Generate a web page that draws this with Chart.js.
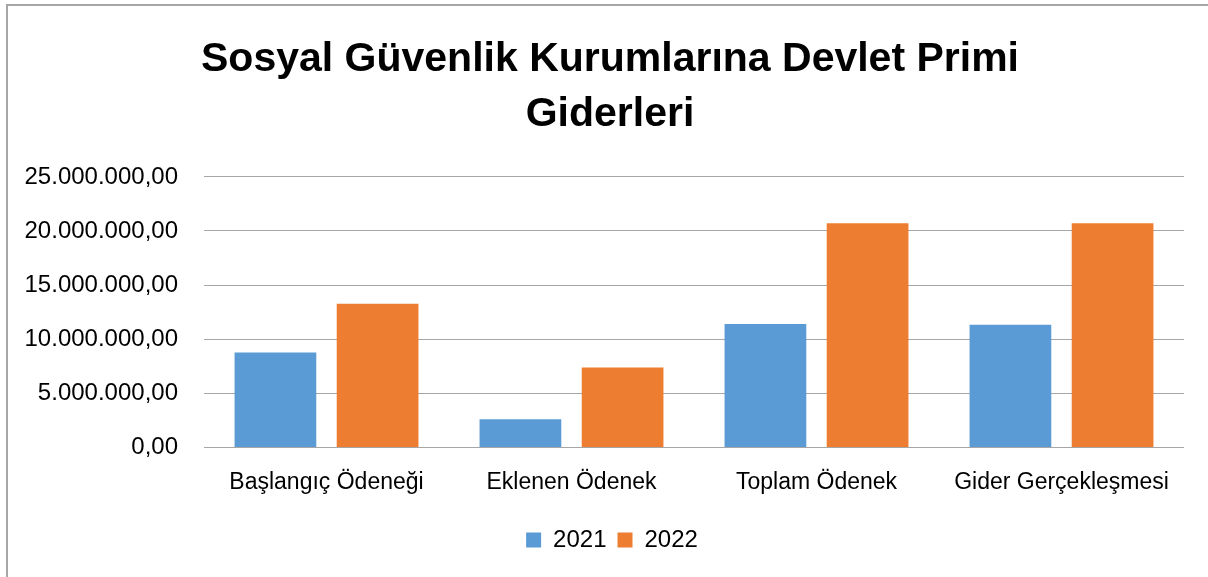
<!DOCTYPE html>
<html>
<head>
<meta charset="utf-8">
<script src="https://cdn.jsdelivr.net/npm/chart.js@4/dist/chart.umd.min.js"></script>
<style>
  body { margin: 0; background: #fff; }
  #wrap { position: relative; width: 1208px; height: 577px; }
  #frame { position: absolute; left: 6px; top: 4px; right: -4px; bottom: -4px;
           border-left: 2px solid #a6a6a6; border-top: 2px solid #a6a6a6; pointer-events: none; }
</style>
</head>
<body>
<div id="wrap">
  <canvas id="chart" width="1208" height="577"></canvas>
  <div id="frame"></div>
</div>
<script>
var categories = ['Başlangıç Ödeneği', 'Eklenen Ödenek', 'Toplam Ödenek', 'Gider Gerçekleşmesi'];
var values2021 = [8770000, 2610000, 11400000, 11340000];
var values2022 = [13270000, 7390000, 20720000, 20720000];
var yTickLabels = ['0,00', '5.000.000,00', '10.000.000,00', '15.000.000,00', '20.000.000,00', '25.000.000,00'];

var font = "'Liberation Sans', Arial, sans-serif";

// title and legend sit a bit right of the plot centre in the original
var shiftBoxes = {
    id: 'shiftBoxes',
    afterLayout: function (chart) {
        chart.titleBlock.left += 18;
        chart.titleBlock.right += 18;
        chart.legend.left += 20;
        chart.legend.right += 20;
    }
};

new Chart(document.getElementById('chart').getContext('2d'), {
    type: 'bar',
    data: {
        labels: categories,
        datasets: [{
            label: '2021',
            data: values2021,
            backgroundColor: '#5B9BD5',
            barPercentage: 0.8,
            categoryPercentage: 0.834
        }, {
            label: '2022',
            data: values2022,
            backgroundColor: '#ED7D31',
            barPercentage: 0.8,
            categoryPercentage: 0.834
        }]
    },
    plugins: [shiftBoxes],
    options: {
        responsive: false,
        animation: false,
        layout: { padding: { left: 0, right: 24, top: 0, bottom: 15 } },
        plugins: {
            title: {
                display: true,
                text: ['Sosyal Güvenlik Kurumlarına Devlet Primi', 'Giderleri'],
                color: '#000',
                font: { family: font, size: 41, weight: 'bold', lineHeight: 1.34 },
                padding: { top: 32, bottom: 35 }
            },
            legend: {
                position: 'bottom',
                labels: {
                    color: '#000',
                    font: { family: font, size: 24 },
                    boxWidth: 15,
                    boxHeight: 15,
                    padding: 11
                }
            },
            tooltip: { enabled: false }
        },
        scales: {
            x: {
                grid: { display: false, drawTicks: false },
                border: { display: false },
                ticks: { color: '#000', font: { family: font, size: 23 }, padding: 21 }
            },
            y: {
                min: 0,
                max: 25000000,
                afterFit: function (scale) { scale.width = 204; },
                grid: { color: '#a6a6a6', drawTicks: false },
                border: { display: false },
                ticks: {
                    stepSize: 5000000,
                    color: '#000',
                    font: { family: font, size: 24 },
                    padding: 26,
                    callback: function (value, index) { return yTickLabels[index]; }
                }
            }
        }
    }
});
</script>
</body>
</html>
